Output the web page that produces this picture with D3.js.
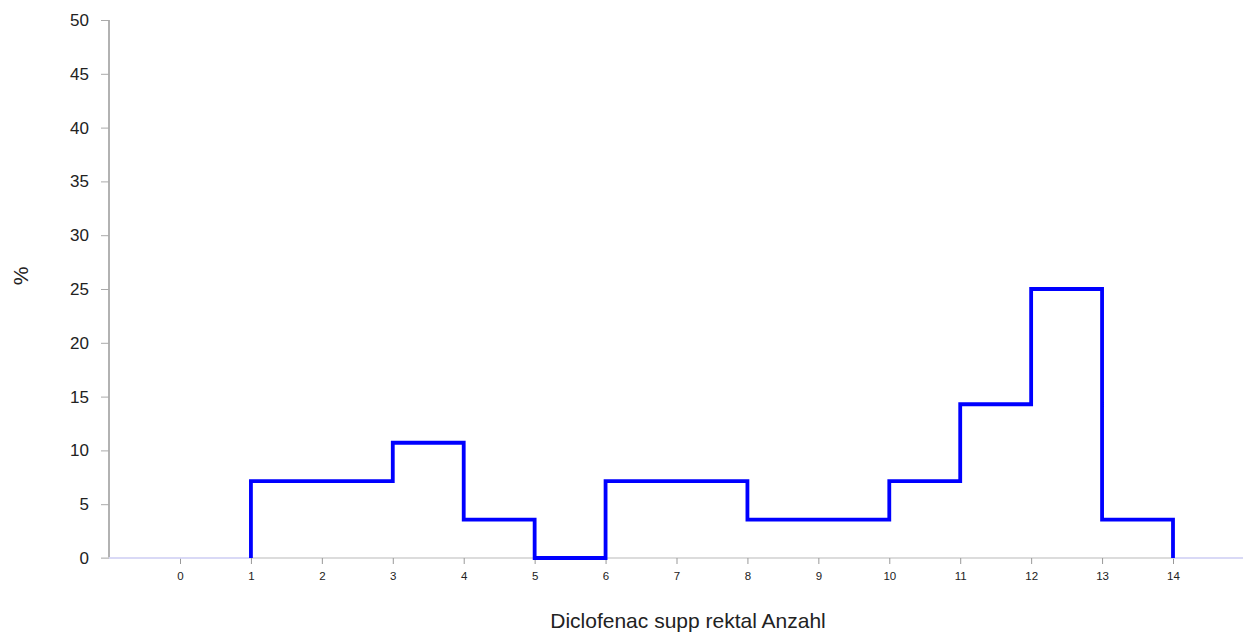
<!DOCTYPE html>
<html>
<head>
<meta charset="utf-8">
<script src="https://cdn.jsdelivr.net/npm/d3@7"></script>
<style>
  html, body { margin: 0; padding: 0; background: #fff; }
  svg { display: block; font-family: "Liberation Sans", Arial, sans-serif; }
</style>
</head>
<body>
<svg id="chart" width="1243" height="635"></svg>
<script>
// Frequency distribution (percent) of the number of suppositories, unit-width bins
const binStarts = [1, 2, 3, 4, 5, 6, 7, 8, 9, 10, 11, 12, 13];
const percents  = [7.14, 7.14, 10.71, 3.57, 0, 7.14, 7.14, 3.57, 3.57, 7.14, 14.29, 25, 3.57];
const binEnd = 14;
const xTicks = [0, 1, 2, 3, 4, 5, 6, 7, 8, 9, 10, 11, 12, 13, 14];
const yTicks = [0, 5, 10, 15, 20, 25, 30, 35, 40, 45, 50];
const xTitle = "Diclofenac supp rektal Anzahl";
const yTitle = "%";

const svg = d3.select("#chart");
const W = 1243;
const plotLeft = 109, plotBottom = 558, plotTop = 20;

const x = d3.scaleLinear().domain([0, 14]).range([180, 1173]);
const y = d3.scaleLinear().domain([0, 50]).range([plotBottom, plotTop]);
const xLo = x.invert(plotLeft), xHi = x.invert(W);

// y axis
const yAxis = svg.append("g")
  .attr("transform", `translate(${plotLeft},0)`)
  .call(d3.axisLeft(y).tickValues(yTicks).tickSize(8).tickPadding(12));
yAxis.select(".domain")
  .attr("stroke", "#999").attr("stroke-width", 1.5)
  .attr("d", `M0,${plotTop}V${plotBottom}`);
yAxis.selectAll(".tick line").attr("stroke", "#aaa");
yAxis.selectAll(".tick text").attr("font-size", 17).attr("fill", "#222");

// x baseline
svg.append("line")
  .attr("x1", plotLeft - 8).attr("x2", W)
  .attr("y1", plotBottom).attr("y2", plotBottom)
  .attr("stroke", "#d0d0d0").attr("stroke-width", 1.5);

// x axis ticks and labels
const xAxis = svg.append("g")
  .attr("transform", `translate(0,${plotBottom})`)
  .call(d3.axisBottom(x).tickValues(xTicks).tickSize(6).tickPadding(8).tickFormat(d3.format("d")));
xAxis.select(".domain").remove();
xAxis.selectAll(".tick line").attr("stroke", "#999");
xAxis.selectAll(".tick text").attr("font-size", 11.5).attr("fill", "#222");

// zero level outside the observed range
svg.append("g").selectAll("line")
  .data([[xLo, binStarts[0]], [binEnd, xHi]])
  .join("line")
  .attr("x1", d => x(d[0])).attr("x2", d => x(d[1]))
  .attr("y1", y(0)).attr("y2", y(0))
  .attr("stroke", "#d8d8ff").attr("stroke-width", 1.5);

// step outline
const pts = [[binStarts[0], 0]]
  .concat(binStarts.map((b, i) => [b, percents[i]]))
  .concat([[binEnd, 0]]);
const line = d3.line()
  .x(d => x(d[0])).y(d => y(d[1]))
  .curve(d3.curveStepAfter);
svg.append("path")
  .attr("d", line(pts))
  .attr("fill", "none")
  .attr("stroke", "#0000ff")
  .attr("stroke-width", 3.8)
  .attr("stroke-linejoin", "miter");

// titles
svg.append("text")
  .attr("x", 688).attr("y", 628)
  .attr("text-anchor", "middle")
  .attr("font-size", 21).attr("fill", "#222")
  .text(xTitle);
svg.append("text")
  .attr("transform", `translate(28,276) rotate(-90)`)
  .attr("text-anchor", "middle")
  .attr("font-size", 21).attr("fill", "#222")
  .text(yTitle);
</script>
</body>
</html>
